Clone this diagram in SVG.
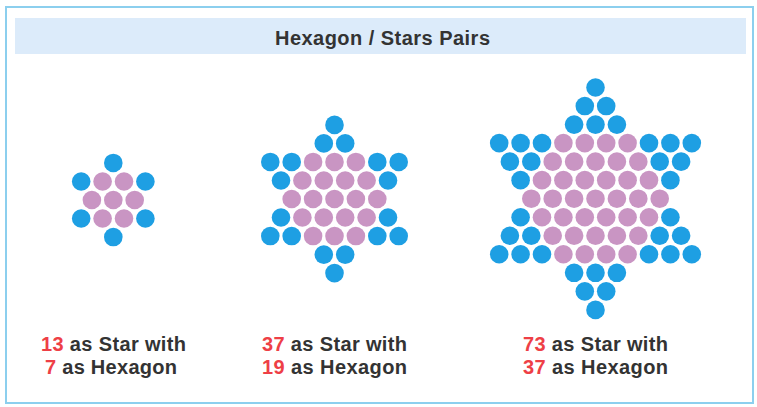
<svg xmlns="http://www.w3.org/2000/svg" xmlns:xlink="http://www.w3.org/1999/xlink" width="757" height="407" viewBox="0 0 757 407">
<style>
.lbl{font-family:"Liberation Sans",Arial,sans-serif;font-weight:bold;font-size:20px;fill:#333333}
.num{fill:#ee3f46}
.ttl{font-family:"Liberation Sans",Arial,sans-serif;font-weight:bold;font-size:20px;fill:#333333}
</style>
<defs>
<circle id="B" r="9.3" fill="#1e9fe3"/>
<circle id="P" r="9.3" fill="#c995c3"/>
</defs>
<rect x="0" y="0" width="757" height="407" fill="#ffffff"/>
<rect x="6" y="7" width="747" height="396" fill="#ffffff" stroke="#8ccfee" stroke-width="2"/>
<g id="title">
<rect x="15" y="18" width="731" height="36" fill="#dcebfa"/>
<text class="ttl" x="275" y="45" textLength="215">Hexagon / Stars Pairs</text>
</g>
<g id="connectors"></g>
<g id="star1" transform="translate(113.3,200)">
<use href="#B" x="0" y="-37.06"/>
<use href="#B" x="-32.1" y="-18.53"/><use href="#P" x="-10.7" y="-18.53"/><use href="#P" x="10.7" y="-18.53"/><use href="#B" x="32.1" y="-18.53"/>
<use href="#P" x="-21.4" y="0"/><use href="#P" x="0" y="0"/><use href="#P" x="21.4" y="0"/>
<use href="#B" x="-32.1" y="18.53"/><use href="#P" x="-10.7" y="18.53"/><use href="#P" x="10.7" y="18.53"/><use href="#B" x="32.1" y="18.53"/>
<use href="#B" x="0" y="37.06"/>
</g>
<g id="star2" transform="translate(334.5,199)">
<use href="#B" x="0" y="-74.12"/>
<use href="#B" x="-10.7" y="-55.59"/><use href="#B" x="10.7" y="-55.59"/>
<use href="#B" x="-64.2" y="-37.06"/><use href="#B" x="-42.8" y="-37.06"/><use href="#P" x="-21.4" y="-37.06"/><use href="#P" x="0" y="-37.06"/><use href="#P" x="21.4" y="-37.06"/><use href="#B" x="42.8" y="-37.06"/><use href="#B" x="64.2" y="-37.06"/>
<use href="#B" x="-53.5" y="-18.53"/><use href="#P" x="-32.1" y="-18.53"/><use href="#P" x="-10.7" y="-18.53"/><use href="#P" x="10.7" y="-18.53"/><use href="#P" x="32.1" y="-18.53"/><use href="#B" x="53.5" y="-18.53"/>
<use href="#P" x="-42.8" y="0"/><use href="#P" x="-21.4" y="0"/><use href="#P" x="0" y="0"/><use href="#P" x="21.4" y="0"/><use href="#P" x="42.8" y="0"/>
<use href="#B" x="-53.5" y="18.53"/><use href="#P" x="-32.1" y="18.53"/><use href="#P" x="-10.7" y="18.53"/><use href="#P" x="10.7" y="18.53"/><use href="#P" x="32.1" y="18.53"/><use href="#B" x="53.5" y="18.53"/>
<use href="#B" x="-64.2" y="37.06"/><use href="#B" x="-42.8" y="37.06"/><use href="#P" x="-21.4" y="37.06"/><use href="#P" x="0" y="37.06"/><use href="#P" x="21.4" y="37.06"/><use href="#B" x="42.8" y="37.06"/><use href="#B" x="64.2" y="37.06"/>
<use href="#B" x="-10.7" y="55.59"/><use href="#B" x="10.7" y="55.59"/>
<use href="#B" x="0" y="74.12"/>
</g>
<g id="star3" transform="translate(595.5,198.7)">
<use href="#B" x="0" y="-111.18"/>
<use href="#B" x="-10.7" y="-92.65"/><use href="#B" x="10.7" y="-92.65"/>
<use href="#B" x="-21.4" y="-74.12"/><use href="#B" x="0" y="-74.12"/><use href="#B" x="21.4" y="-74.12"/>
<use href="#B" x="-96.3" y="-55.59"/><use href="#B" x="-74.9" y="-55.59"/><use href="#B" x="-53.5" y="-55.59"/><use href="#P" x="-32.1" y="-55.59"/><use href="#P" x="-10.7" y="-55.59"/><use href="#P" x="10.7" y="-55.59"/><use href="#P" x="32.1" y="-55.59"/><use href="#B" x="53.5" y="-55.59"/><use href="#B" x="74.9" y="-55.59"/><use href="#B" x="96.3" y="-55.59"/>
<use href="#B" x="-85.6" y="-37.06"/><use href="#B" x="-64.2" y="-37.06"/><use href="#P" x="-42.8" y="-37.06"/><use href="#P" x="-21.4" y="-37.06"/><use href="#P" x="0" y="-37.06"/><use href="#P" x="21.4" y="-37.06"/><use href="#P" x="42.8" y="-37.06"/><use href="#B" x="64.2" y="-37.06"/><use href="#B" x="85.6" y="-37.06"/>
<use href="#B" x="-74.9" y="-18.53"/><use href="#P" x="-53.5" y="-18.53"/><use href="#P" x="-32.1" y="-18.53"/><use href="#P" x="-10.7" y="-18.53"/><use href="#P" x="10.7" y="-18.53"/><use href="#P" x="32.1" y="-18.53"/><use href="#P" x="53.5" y="-18.53"/><use href="#B" x="74.9" y="-18.53"/>
<use href="#P" x="-64.2" y="0"/><use href="#P" x="-42.8" y="0"/><use href="#P" x="-21.4" y="0"/><use href="#P" x="0" y="0"/><use href="#P" x="21.4" y="0"/><use href="#P" x="42.8" y="0"/><use href="#P" x="64.2" y="0"/>
<use href="#B" x="-74.9" y="18.53"/><use href="#P" x="-53.5" y="18.53"/><use href="#P" x="-32.1" y="18.53"/><use href="#P" x="-10.7" y="18.53"/><use href="#P" x="10.7" y="18.53"/><use href="#P" x="32.1" y="18.53"/><use href="#P" x="53.5" y="18.53"/><use href="#B" x="74.9" y="18.53"/>
<use href="#B" x="-85.6" y="37.06"/><use href="#B" x="-64.2" y="37.06"/><use href="#P" x="-42.8" y="37.06"/><use href="#P" x="-21.4" y="37.06"/><use href="#P" x="0" y="37.06"/><use href="#P" x="21.4" y="37.06"/><use href="#P" x="42.8" y="37.06"/><use href="#B" x="64.2" y="37.06"/><use href="#B" x="85.6" y="37.06"/>
<use href="#B" x="-96.3" y="55.59"/><use href="#B" x="-74.9" y="55.59"/><use href="#B" x="-53.5" y="55.59"/><use href="#P" x="-32.1" y="55.59"/><use href="#P" x="-10.7" y="55.59"/><use href="#P" x="10.7" y="55.59"/><use href="#P" x="32.1" y="55.59"/><use href="#B" x="53.5" y="55.59"/><use href="#B" x="74.9" y="55.59"/><use href="#B" x="96.3" y="55.59"/>
<use href="#B" x="-21.4" y="74.12"/><use href="#B" x="0" y="74.12"/><use href="#B" x="21.4" y="74.12"/>
<use href="#B" x="-10.7" y="92.65"/><use href="#B" x="10.7" y="92.65"/>
<use href="#B" x="0" y="111.18"/>
</g>
<g id="label1">
<text class="lbl" x="41" y="351" textLength="145"><tspan class="num">13</tspan> as Star with</text>
<text class="lbl" x="45" y="374" textLength="132"><tspan class="num">7</tspan> as Hexagon</text>
</g>
<g id="label2">
<text class="lbl" x="262" y="351" textLength="145"><tspan class="num">37</tspan> as Star with</text>
<text class="lbl" x="262" y="374" textLength="145"><tspan class="num">19</tspan> as Hexagon</text>
</g>
<g id="label3">
<text class="lbl" x="523" y="351" textLength="145"><tspan class="num">73</tspan> as Star with</text>
<text class="lbl" x="523" y="374" textLength="145"><tspan class="num">37</tspan> as Hexagon</text>
</g>
</svg>
